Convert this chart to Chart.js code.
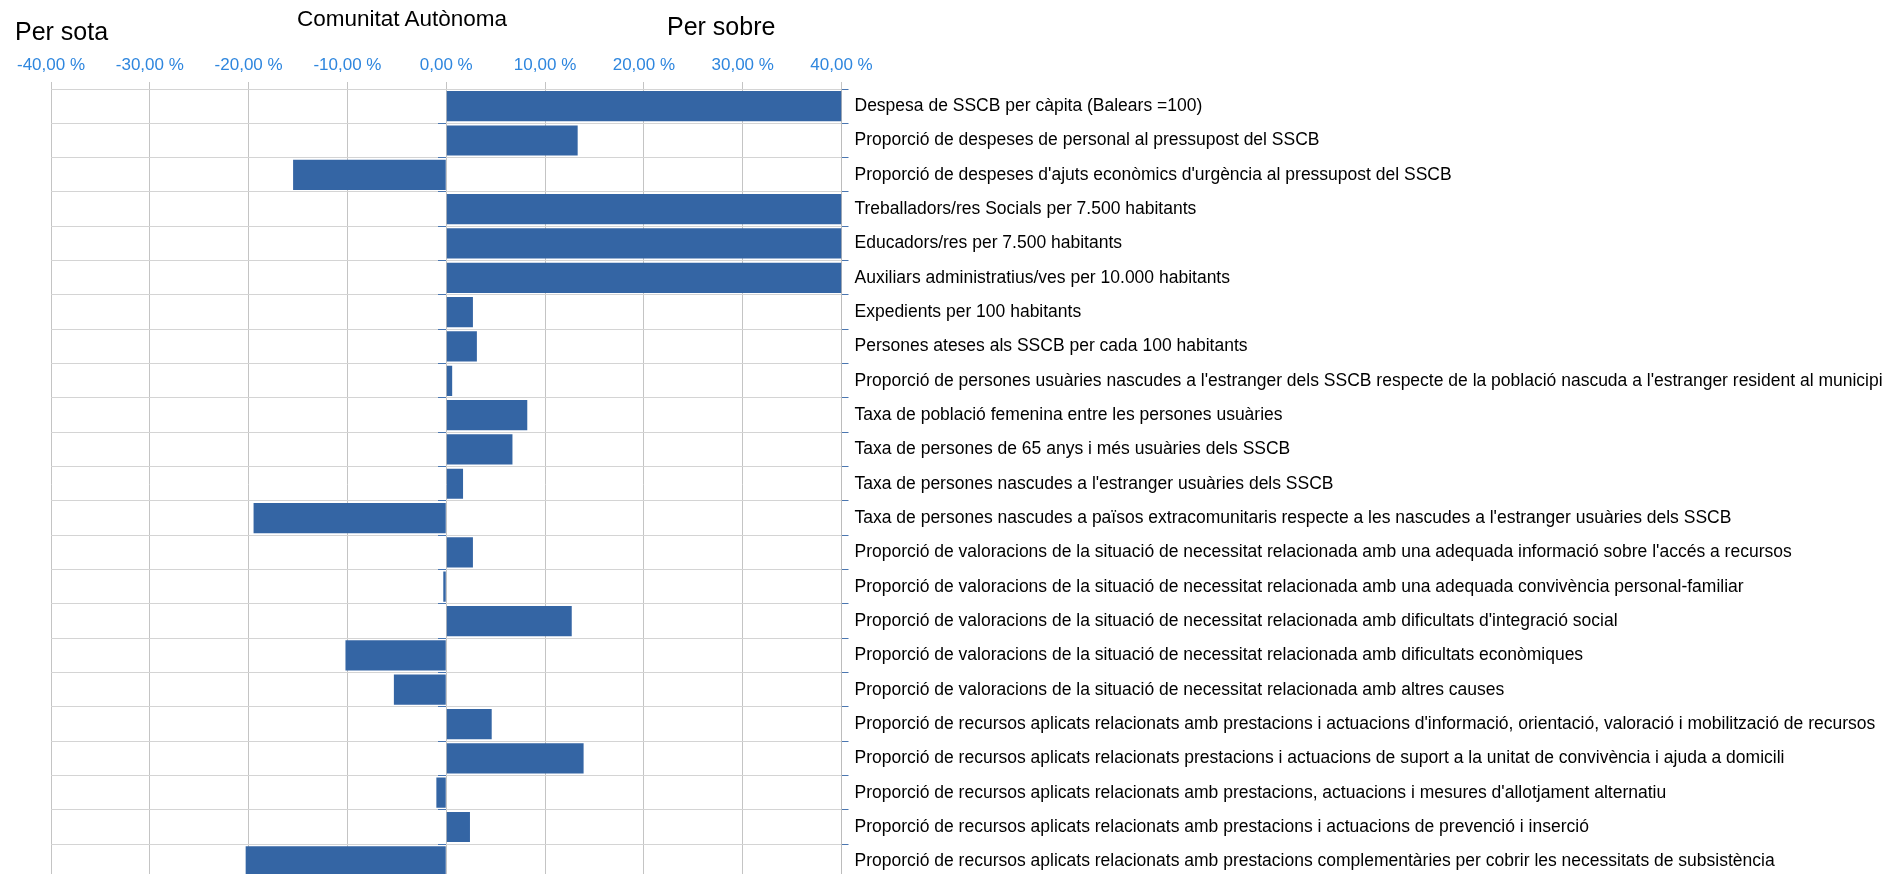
<!DOCTYPE html>
<html>
<head>
<meta charset="utf-8">
<title>Comunitat Autònoma</title>
<script src="https://cdn.jsdelivr.net/npm/chart.js@4.4.1/dist/chart.umd.min.js"></script>
<style>
  html, body { margin: 0; padding: 0; background: #fff; overflow: hidden; }
  #wrap { position: relative; width: 1901px; height: 874px; overflow: hidden; }
  #chart { position: absolute; left: 0; top: 0; }
  .lbl { position: absolute; font-family: "Liberation Sans", Arial, sans-serif; color: #000; line-height: 1; white-space: nowrap; }
</style>
</head>
<body>
<div id="wrap">
  <canvas id="chart" width="1901" height="895"></canvas>
  <div class="lbl" style="left:15px;top:19px;font-size:25px">Per sota</div>
  <div class="lbl" style="left:297px;top:8px;font-size:22.5px">Comunitat Autònoma</div>
  <div class="lbl" style="left:667px;top:14px;font-size:25px">Per sobre</div>
</div>
<script>
// indicadors (eix de categories)
var categories = [
  "Despesa de SSCB per càpita (Balears =100)",
  "Proporció de despeses de personal al pressupost del SSCB",
  "Proporció de despeses d'ajuts econòmics d'urgència al pressupost del SSCB",
  "Treballadors/res Socials per 7.500 habitants",
  "Educadors/res per 7.500 habitants",
  "Auxiliars administratius/ves per 10.000 habitants",
  "Expedients per 100 habitants",
  "Persones ateses als SSCB per cada 100 habitants",
  "Proporció de persones usuàries nascudes a l'estranger dels SSCB respecte de la població nascuda a l'estranger resident al municipi",
  "Taxa de població femenina entre les persones usuàries",
  "Taxa de persones de 65 anys i més usuàries dels SSCB",
  "Taxa de persones nascudes a l'estranger usuàries dels SSCB",
  "Taxa de persones nascudes a països extracomunitaris respecte a les nascudes a l'estranger usuàries dels SSCB",
  "Proporció de valoracions de la situació de necessitat relacionada amb una adequada informació sobre l'accés a recursos",
  "Proporció de valoracions de la situació de necessitat relacionada amb una adequada convivència personal-familiar",
  "Proporció de valoracions de la situació de necessitat relacionada amb dificultats d'integració social",
  "Proporció de valoracions de la situació de necessitat relacionada amb dificultats econòmiques",
  "Proporció de valoracions de la situació de necessitat relacionada amb altres causes",
  "Proporció de recursos aplicats relacionats amb prestacions i actuacions d'informació, orientació, valoració i mobilització de recursos",
  "Proporció de recursos aplicats relacionats prestacions i actuacions de suport a la unitat de convivència i ajuda a domicili",
  "Proporció de recursos aplicats relacionats amb prestacions, actuacions i mesures d'allotjament alternatiu",
  "Proporció de recursos aplicats relacionats amb prestacions i actuacions de prevenció i inserció",
  "Proporció de recursos aplicats relacionats amb prestacions complementàries per cobrir les necessitats de subsistència"
];

// diferència respecte de la Comunitat Autònoma (%)
var differences = [
  40, 13.3, -15.5, 40, 40, 40, 2.7, 3.1, 0.6, 8.2, 6.7, 1.7,
  -19.5, 2.7, -0.3, 12.7, -10.2, -5.3, 4.6, 13.9, -1.0, 2.4, -20.3
];

// eix de percentatges
var axisMin = -40;
var axisMax = 40;
var axisStep = 10;

function formatPercent(value) {
  return Number(value).toFixed(2).replace('.', ',') + ' %';
}

Chart.defaults.font.family = '"Liberation Sans", Arial, sans-serif';

var ctx = document.getElementById('chart').getContext('2d');
var chart = new Chart(ctx, {
  type: 'bar',
  data: {
    labels: categories,
    datasets: [{
      data: differences,
      backgroundColor: '#3465a4',
      borderWidth: 0,
      barPercentage: 0.88,
      categoryPercentage: 1
    }]
  },
  options: {
    indexAxis: 'y',
    responsive: false,
    animation: false,
    layout: {
      padding: { left: 51, top: 49.6, right: 0, bottom: 1 }
    },
    plugins: {
      legend: { display: false },
      tooltip: { enabled: false }
    },
    scales: {
      x: {
        position: 'top',
        min: axisMin,
        max: axisMax,
        ticks: {
          stepSize: axisStep,
          padding: 6,
          color: '#2e86de',
          font: { size: 17 },
          callback: function(value) {
            return formatPercent(value);
          }
        },
        grid: { color: '#c4c4c4', tickLength: 7 },
        border: { color: '#d4d4d4' }
      },
      y: {
        position: 'right',
        ticks: {
          padding: 6,
          color: '#000',
          autoSkip: false,
          font: { size: 17.5 }
        },
        grid: { color: '#d4d4d4', tickColor: '#4a76b0', tickLength: 7, offset: true },
        border: { color: '#bcbcbc' },
        afterFit: function(scale) {
          scale.width = 1901 - 841.5;
        }
      },
      // petites marques a l'eix del zero
      y0: {
        type: 'category',
        labels: categories,
        position: { x: 0 },
        offset: true,
        ticks: { display: false },
        grid: { drawOnChartArea: false, tickColor: '#4a76b0', tickLength: 8, offset: true },
        border: { display: false }
      }
    }
  }
});
</script>
</body>
</html>
